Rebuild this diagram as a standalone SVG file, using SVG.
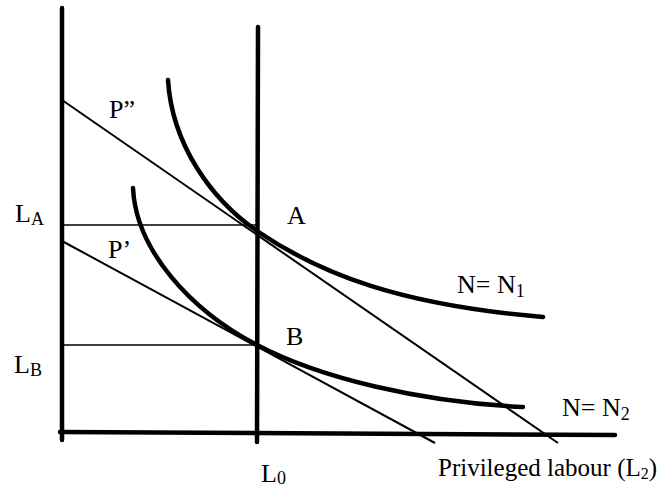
<svg xmlns="http://www.w3.org/2000/svg" width="657" height="492" viewBox="0 0 657 492">
<style>
.axis{stroke:#000;stroke-width:4.5;fill:none;stroke-linecap:round}
.curve{stroke:#000;stroke-width:4.5;fill:none;stroke-linecap:round}
.thin{stroke:#000;stroke-width:2;fill:none}
.hair{stroke:#000;stroke-width:1.6;fill:none}
text{font-family:"Liberation Serif","Times New Roman",serif;font-size:26px;fill:#000}
.sub{font-size:18px}
</style>
<rect width="657" height="492" fill="#fff"/>
<g id="axes">
<line class="axis" x1="62" y1="8" x2="62" y2="440"/>
<line class="axis" x1="258" y1="27" x2="257" y2="442"/>
<line class="axis" x1="60" y1="432" x2="615" y2="435"/>
</g>
<g id="guides">
<line class="hair" x1="62" y1="225" x2="257" y2="225"/>
<line class="hair" x1="62" y1="345" x2="257" y2="345"/>
</g>
<g id="budget-lines">
<line class="thin" x1="62" y1="100" x2="558" y2="443"/>
<line class="thin" x1="62" y1="241" x2="435" y2="443"/>
</g>
<g id="isoquants">
<path id="N1" class="curve" d="M168,80 C172,145 212,200 257,231 C320,274 400,305 543,317"/>
<path id="N2" class="curve" d="M133,188 C136,250 190,310 257,345 C320,378 420,402 523,407"/>
</g>
<g id="labels">
<text x="109" y="118">P”</text>
<text x="108" y="258">P’</text>
<text x="287" y="224">A</text>
<text x="286" y="345">B</text>
<text x="15" y="222">L<tspan class="sub" dy="3">A</tspan></text>
<text x="14" y="373">L<tspan class="sub" dy="3">B</tspan></text>
<text x="261" y="482">L<tspan class="sub" dy="2">0</tspan></text>
<text x="457" y="293">N= N<tspan class="sub" dy="4">1</tspan></text>
<text x="562" y="416">N= N<tspan class="sub" dy="4">2</tspan></text>
<text x="438" y="476" style="font-size:25px">Privileged labour (L<tspan class="sub" style="font-size:16px" dy="3">2</tspan><tspan dy="-3">)</tspan></text>
</g>
</svg>
